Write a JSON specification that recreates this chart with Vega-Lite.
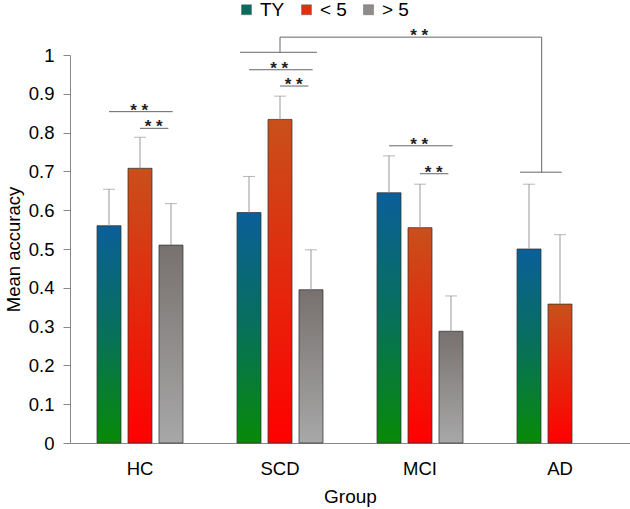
{
  "$schema": "https://vega.github.io/schema/vega-lite/v6.json",
  "width": 560,
  "height": 388,
  "autosize": {"type": "none"},
  "padding": {"left": 70, "top": 55, "right": 0, "bottom": 66},
  "config": {
    "view": {"stroke": null},
    "font": "Liberation Sans",
    "axis": {"grid": false, "domainColor": "#888", "tickColor": "#888", "labelColor": "#000", "titleColor": "#000", "labelFontSize": 18.5, "titleFontSize": 18.5, "titleFontWeight": "normal", "labelFont": "Liberation Sans", "titleFont": "Liberation Sans"},
    "axisX": {"ticks": false, "tickSize": 0, "labelPadding": 16, "titlePadding": 10, "labelAngle": 0, "titleFontSize": 19},
    "axisY": {"tickSize": 7, "labelPadding": 9, "titlePadding": 5, "values": [0, 0.1, 0.2, 0.3, 0.4, 0.5, 0.6, 0.7, 0.8, 0.9, 1], "format": ".1~f"}
  },
  "datasets": {
    "bars": [
      {"group": "HC", "series": "TY", "mean": 0.560, "upper": 0.654},
      {"group": "HC", "series": "< 5", "mean": 0.708, "upper": 0.788},
      {"group": "HC", "series": "> 5", "mean": 0.510, "upper": 0.617},
      {"group": "SCD", "series": "TY", "mean": 0.594, "upper": 0.687},
      {"group": "SCD", "series": "< 5", "mean": 0.834, "upper": 0.894},
      {"group": "SCD", "series": "> 5", "mean": 0.395, "upper": 0.498},
      {"group": "MCI", "series": "TY", "mean": 0.645, "upper": 0.740},
      {"group": "MCI", "series": "< 5", "mean": 0.555, "upper": 0.667},
      {"group": "MCI", "series": "> 5", "mean": 0.288, "upper": 0.379},
      {"group": "AD", "series": "TY", "mean": 0.500, "upper": 0.667},
      {"group": "AD", "series": "< 5", "mean": 0.358, "upper": 0.537}
    ]
  },
  "layer": [
    {
      "data": {"name": "bars"},
      "mark": {"type": "bar", "opacity": 0},
      "encoding": {
        "x": {"field": "group", "type": "nominal", "title": "Group", "scale": {"domain": ["HC", "SCD", "MCI", "AD"], "paddingInner": 0.386, "paddingOuter": 0.193}},
        "xOffset": {"field": "series", "type": "nominal", "scale": {"domain": ["TY", "< 5", "> 5"], "paddingInner": 0.226, "paddingOuter": 0}},
        "y": {"field": "mean", "type": "quantitative", "title": "Mean accuracy", "scale": {"domain": [0, 1], "nice": false}},
        "fill": {
          "field": "series", "type": "nominal",
          "scale": {"domain": ["TY", "< 5", "> 5"], "range": ["#096a5e", "#e2300f", "#8e8b8a"]},
          "legend": {"orient": "none", "legendX": 167, "legendY": -55, "direction": "horizontal", "title": null, "symbolType": "square", "symbolSize": 100, "symbolOpacity": 1, "labelFontSize": 19, "labelOffset": 4, "columnPadding": 12, "symbolStrokeWidth": 0.5, "symbolStrokeColor": "#666", "padding": 0}
        }
      }
    },
    {
      "data": {"name": "bars"},
      "mark": {"type": "bar", "stroke": "#333", "strokeWidth": 1, "strokeOpacity": 0.75},
      "encoding": {
        "x": {"field": "group", "type": "nominal", "title": "Group"},
        "xOffset": {"field": "series", "type": "nominal"},
        "y": {"field": "mean", "type": "quantitative", "title": "Mean accuracy"},
        "fill": {
          "condition": [
            {"test": "datum.series === 'TY'", "value": {"gradient": "linear", "x1": 0, "y1": 0, "x2": 0, "y2": 1, "stops": [{"offset": 0, "color": "#0b5f99"}, {"offset": 0.5, "color": "#08705a"}, {"offset": 1, "color": "#078a07"}]}},
            {"test": "datum.series === '< 5'", "value": {"gradient": "linear", "x1": 0, "y1": 0, "x2": 0, "y2": 1, "stops": [{"offset": 0, "color": "#c8501a"}, {"offset": 1, "color": "#ff0000"}]}}
          ],
          "value": {"gradient": "linear", "x1": 0, "y1": 0, "x2": 0, "y2": 1, "stops": [{"offset": 0, "color": "#77716f"}, {"offset": 1, "color": "#a8a8a8"}]}
        }
      }
    },
    {
      "data": {"name": "bars"},
      "mark": {"type": "rule", "color": "#999", "strokeWidth": 1},
      "encoding": {
        "x": {"field": "group", "type": "nominal", "title": "Group"},
        "xOffset": {"field": "series", "type": "nominal"},
        "y": {"field": "mean", "type": "quantitative", "title": "Mean accuracy"},
        "y2": {"field": "upper"}
      }
    },
    {
      "data": {"name": "bars"},
      "mark": {"type": "tick", "color": "#999", "size": 12, "thickness": 1},
      "encoding": {
        "x": {"field": "group", "type": "nominal", "title": "Group"},
        "xOffset": {"field": "series", "type": "nominal"},
        "y": {"field": "upper", "type": "quantitative", "title": "Mean accuracy"}
      }
    },
    {
      "data": {"values": [{"group": "HC", "v": 0.854}, {"group": "SCD", "v": 0.962}, {"group": "MCI", "v": 0.766}]},
      "mark": {"type": "rule", "color": "#666", "strokeWidth": 1, "clip": false},
      "encoding": {
        "x": {"field": "group", "type": "nominal", "title": "Group", "bandPosition": 0.14},
        "x2": {"field": "group", "bandPosition": 0.88},
        "y": {"field": "v", "type": "quantitative", "title": "Mean accuracy"}
      }
    },
    {
      "data": {"values": [{"group": "HC", "v": 0.811}, {"group": "SCD", "v": 0.920}, {"group": "MCI", "v": 0.694}]},
      "mark": {"type": "rule", "color": "#666", "strokeWidth": 1, "clip": false},
      "encoding": {
        "x": {"field": "group", "type": "nominal", "title": "Group", "bandPosition": 0.5},
        "x2": {"field": "group", "bandPosition": 0.83},
        "y": {"field": "v", "type": "quantitative", "title": "Mean accuracy"}
      }
    },
    {
      "data": {"values": [{"group": "SCD", "v": 1.007}]},
      "mark": {"type": "rule", "color": "#666", "strokeWidth": 1, "clip": false},
      "encoding": {
        "x": {"field": "group", "type": "nominal", "title": "Group", "bandPosition": 0.035},
        "x2": {"field": "group", "bandPosition": 0.93},
        "y": {"field": "v", "type": "quantitative", "title": "Mean accuracy"}
      }
    },
    {
      "data": {"values": [{"group": "SCD", "v": 1.007, "v2": 1.046}]},
      "mark": {"type": "rule", "color": "#666", "strokeWidth": 1, "clip": false},
      "encoding": {
        "x": {"field": "group", "type": "nominal", "title": "Group", "bandPosition": 0.5},
        "y": {"field": "v", "type": "quantitative", "title": "Mean accuracy"},
        "y2": {"field": "v2"}
      }
    },
    {
      "data": {"values": [{"group": "SCD", "group2": "AD", "v": 1.046}]},
      "mark": {"type": "rule", "color": "#666", "strokeWidth": 1, "clip": false},
      "encoding": {
        "x": {"field": "group", "type": "nominal", "title": "Group", "bandPosition": 0.5},
        "x2": {"field": "group2", "bandPosition": 0.287},
        "y": {"field": "v", "type": "quantitative", "title": "Mean accuracy"}
      }
    },
    {
      "data": {"values": [{"group": "AD", "v": 1.046, "v2": 0.698}]},
      "mark": {"type": "rule", "color": "#666", "strokeWidth": 1, "clip": false},
      "encoding": {
        "x": {"field": "group", "type": "nominal", "title": "Group", "bandPosition": 0.287},
        "y": {"field": "v", "type": "quantitative", "title": "Mean accuracy"},
        "y2": {"field": "v2"}
      }
    },
    {
      "data": {"values": [{"group": "AD", "v": 0.698}]},
      "mark": {"type": "rule", "color": "#666", "strokeWidth": 1, "clip": false},
      "encoding": {
        "x": {"field": "group", "type": "nominal", "title": "Group", "bandPosition": 0.035},
        "x2": {"field": "group", "bandPosition": 0.52},
        "y": {"field": "v", "type": "quantitative", "title": "Mean accuracy"}
      }
    },
    {
      "data": {"values": [{"group": "HC", "v": 0.854, "label": "* *"}, {"group": "SCD", "v": 0.962, "label": "* *"}, {"group": "MCI", "v": 0.766, "label": "* *"}, {"group": "MCI", "v": 1.046, "label": "* *"}]},
      "mark": {"type": "text", "fontSize": 17, "fontWeight": "bold", "color": "#222", "baseline": "alphabetic", "align": "center", "dy": 4, "clip": false},
      "encoding": {
        "x": {"field": "group", "type": "nominal", "title": "Group", "bandPosition": 0.49},
        "y": {"field": "v", "type": "quantitative", "title": "Mean accuracy"},
        "text": {"field": "label"}
      }
    },
    {
      "data": {"values": [{"group": "HC", "v": 0.811, "label": "* *"}, {"group": "SCD", "v": 0.920, "label": "* *"}, {"group": "MCI", "v": 0.694, "label": "* *"}]},
      "mark": {"type": "text", "fontSize": 17, "fontWeight": "bold", "color": "#222", "baseline": "alphabetic", "align": "center", "dy": 4, "clip": false},
      "encoding": {
        "x": {"field": "group", "type": "nominal", "title": "Group", "bandPosition": 0.66},
        "y": {"field": "v", "type": "quantitative", "title": "Mean accuracy"},
        "text": {"field": "label"}
      }
    }
  ]
}
